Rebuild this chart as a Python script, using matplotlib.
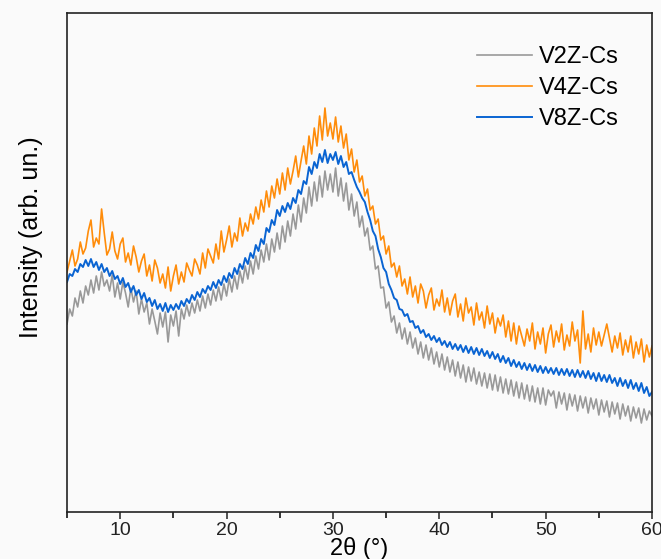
import numpy as np
import matplotlib.pyplot as plt

plt.rcParams['font.family'] = ['Liberation Sans', 'DejaVu Sans']

# intensity (arb. un.), 2theta from 5 to 60 in 0.25 deg steps
v2z_cs = [188, 203, 196, 214, 205, 221, 209, 226, 217, 232, 219, 236, 222, 240, 226, 232,
          221, 237, 215, 229, 213, 230, 219, 205, 224, 210, 221, 198, 213, 200, 209, 188,
          203, 191, 178, 199, 185, 200, 170, 197, 186, 201, 176, 203, 193, 207, 196, 209,
          199, 212, 201, 216, 204, 218, 207, 222, 211, 225, 212, 228, 216, 233, 220, 236,
          223, 241, 229, 246, 233, 251, 238, 256, 243, 262, 250, 268, 252, 273, 260, 279,
          263, 286, 270, 291, 276, 298, 283, 307, 290, 314, 299, 325, 306, 330, 311, 336,
          315, 341, 322, 338, 320, 344, 316, 334, 311, 329, 302, 318, 296, 310, 285, 296,
          276, 284, 262, 266, 243, 246, 224, 225, 204, 210, 190, 196, 179, 189, 173, 184,
          168, 180, 164, 174, 158, 170, 154, 167, 152, 164, 148, 160, 145, 158, 142, 155,
          140, 152, 136, 150, 134, 147, 130, 145, 131, 144, 128, 140, 126, 139, 124, 138,
          122, 137, 121, 135, 119, 133, 118, 132, 116, 130, 114, 129, 113, 127, 111, 126,
          110, 124, 108, 124, 107, 122, 116, 121, 104, 120, 108, 119, 102, 118, 106, 117,
          101, 116, 104, 115, 99, 114, 103, 113, 97, 112, 100, 111, 95, 110, 98, 109,
          93, 108, 96, 106, 91, 105, 94, 104, 89, 103, 92, 101, 96]

v4z_cs = [240, 251, 262, 246, 253, 270, 258, 264, 281, 292, 265, 274, 268, 303, 279, 257,
          263, 280, 261, 253, 268, 274, 250, 259, 247, 266, 255, 240, 251, 258, 236, 247,
          231, 252, 244, 229, 238, 224, 245, 221, 236, 247, 228, 240, 230, 249, 242, 236,
          253, 247, 238, 259, 244, 263, 256, 249, 268, 253, 281, 260, 272, 286, 265, 279,
          271, 294, 276, 289, 281, 298, 288, 305, 293, 312, 300, 321, 305, 326, 314, 333,
          318, 339, 322, 344, 328, 341, 356, 335, 351, 366, 348, 376, 358, 384, 366, 396,
          372, 404, 376, 389, 373, 395, 370, 386, 364, 378, 352, 363, 340, 352, 330, 336,
          316, 323, 302, 306, 288, 293, 272, 276, 258, 266, 245, 249, 235, 246, 226, 233,
          218, 235, 215, 226, 209, 228, 221, 204, 217, 224, 202, 213, 206, 222, 200, 214,
          197, 211, 218, 195, 208, 191, 214, 199, 205, 187, 209, 192, 200, 184, 206, 188,
          199, 179, 194, 186, 197, 175, 191, 171, 189, 168, 186, 176, 166, 183, 171, 189,
          163, 180, 168, 184, 159, 178, 187, 165, 181, 170, 188, 162, 177, 166, 190, 171,
          182, 149, 201, 163, 178, 160, 184, 167, 180, 166, 177, 188, 174, 160, 176, 164,
          179, 157, 172, 160, 176, 154, 170, 158, 173, 150, 167, 155, 166]

v8z_cs = [230, 238, 236, 243, 240, 248, 245, 252, 246, 253, 245, 250, 242, 248, 240, 244,
          236, 241, 233, 236, 228, 234, 225, 229, 220, 226, 217, 222, 213, 219, 210, 214,
          206, 212, 203, 208, 201, 209, 200, 207, 202, 208, 203, 211, 206, 213, 209, 217,
          212, 220, 215, 223, 219, 226, 222, 230, 224, 232, 227, 236, 230, 239, 234, 244,
          238, 248, 243, 254, 248, 259, 254, 267, 261, 273, 268, 284, 280, 292, 287, 302,
          296, 306, 300, 309, 303, 314, 309, 322, 318, 331, 328, 345, 338, 350, 344, 358,
          350, 362, 349, 358, 352, 360, 348, 356, 345, 350, 338, 340, 332, 325, 320, 314,
          310, 300, 292, 281, 276, 263, 255, 244, 240, 228, 222, 214, 212, 203, 202, 196,
          198, 190, 191, 184, 186, 179, 182, 175, 178, 172, 176, 170, 174, 167, 171, 165,
          170, 163, 168, 162, 167, 160, 166, 159, 165, 158, 164, 157, 163, 156, 161, 154,
          160, 153, 158, 150, 156, 149, 154, 146, 152, 145, 150, 143, 149, 142, 148, 141,
          147, 140, 146, 139, 145, 139, 144, 138, 144, 137, 143, 137, 143, 136, 142, 135,
          142, 135, 141, 134, 141, 133, 139, 131, 139, 131, 137, 130, 137, 129, 134, 126,
          134, 126, 132, 124, 132, 123, 129, 121, 129, 119, 125, 116, 120]

two_theta = np.linspace(5, 60, len(v2z_cs))

fig = plt.figure(figsize=(6.61, 5.59), dpi=100, facecolor='#fafafa')
ax = fig.add_axes([0.1014, 0.0841, 0.885, 0.8926], facecolor='#fafafa')

ax.plot(two_theta, v2z_cs, color='#999999', lw=1.2, label='V2Z-Cs')
ax.plot(two_theta, v4z_cs, color='#ff8c0a', lw=1.2, label='V4Z-Cs')
ax.plot(two_theta, v8z_cs, color='#0a64d2', lw=1.4, label='V8Z-Cs')

ax.set_xlim(5, 60)
ax.set_ylim(0, 499)
ax.set_xticks([10, 20, 30, 40, 50, 60])
ax.set_xticks([5, 15, 25, 35, 45, 55], minor=True)
ax.set_yticks([])
ax.tick_params(axis='x', which='major', length=5, width=1.1, labelsize=14, pad=2, colors='#222222')
ax.tick_params(axis='x', which='minor', length=4, width=1.1)
for s in ax.spines.values():
    s.set_linewidth(1.2)
    s.set_color('#222222')

ax.set_xlabel('2θ (°)', fontsize=17, labelpad=-1)
ax.set_ylabel('Intensity (arb. un.)', fontsize=18)
ax.yaxis.set_label_coords(-0.041, 0.55)

ax.legend(loc='upper right', bbox_to_anchor=(0.959, 0.952), borderaxespad=0, frameon=False,
          fontsize=17, handlelength=2.3, handletextpad=0.3, labelspacing=0.37)

fig.savefig('out.png', dpi=100, facecolor=fig.get_facecolor())
